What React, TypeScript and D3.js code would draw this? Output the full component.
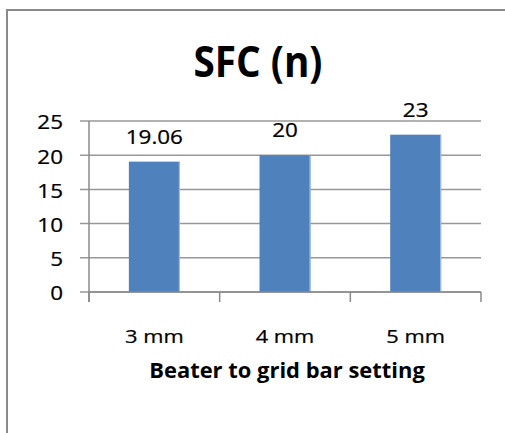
import React from "react";
import * as d3 from "d3";

const categories = ["3 mm", "4 mm", "5 mm"];
const values = [19.06, 20, 23];
const yTicks = [0, 5, 10, 15, 20, 25];
const title = "SFC (n)";
const xTitle = "Beater to grid bar setting";

const W = 505;
const H = 433;
const FONT = "'Open Sans', 'Noto Sans', sans-serif";

function SText(props: {
  x: number;
  y: number;
  sx: number;
  size: number;
  anchor: string;
  weight?: string;
  baseline?: string;
  spacing?: number;
  children: React.ReactNode;
}) {
  return (
    <text
      transform={`translate(${props.x},${props.y}) scale(${props.sx},1)`}
      textAnchor={props.anchor as any}
      fontFamily={FONT}
      fontSize={props.size}
      fontWeight={props.weight || "normal"}
      dominantBaseline={props.baseline as any}
      letterSpacing={props.spacing}
      fill="#000"
      stroke="#000"
      strokeWidth={props.weight === "bold" ? 0 : 0.25}
    >
      {props.children}
    </text>
  );
}

export default function App() {
  const left = 89;
  const right = 481;
  const top = 121;
  const bottom = 292;

  const y = d3.scaleLinear().domain([0, 25]).range([bottom, top]);
  const x = d3
    .scaleBand<string>()
    .domain(categories)
    .range([left, right])
    .paddingInner(0.61)
    .paddingOuter(0.305);
  const cat = d3.scaleBand<string>().domain(categories).range([left, right]);

  const boundaries = [left, ...categories.map((c) => (cat(c) as number) + cat.bandwidth())];

  return (
    <svg
      width={W}
      height={H}
      style={{ position: "absolute", left: 0, top: 0, background: "#fff" }}
    >
      <rect x={0} y={0} width={W} height={H} fill="#fff" />
      <rect x={7} y={10} width={W + 20} height={H + 20} fill="#fff" stroke="#8a8a8a" strokeWidth={2} />

      <SText x={258} y={77} sx={0.9} size={43} anchor="middle" weight="bold">
        {title}
      </SText>

      {yTicks.map((t) => (
        <line key={"g" + t} x1={80} x2={right} y1={y(t)} y2={y(t)} stroke="#989898" strokeWidth={1.5} />
      ))}
      {yTicks.map((t) => (
        <SText key={"yl" + t} x={63} y={y(t) + 1} sx={1.15} size={19.5} anchor="end" baseline="central">
          {String(t)}
        </SText>
      ))}

      {categories.map((c, i) => (
        <g key={c}>
          <rect
            x={x(c) as number}
            y={y(values[i])}
            width={x.bandwidth()}
            height={bottom - y(values[i])}
            fill="#4f81bd"
          />
          <line
            x1={(x(c) as number) + x.bandwidth() - 0.5}
            x2={(x(c) as number) + x.bandwidth() - 0.5}
            y1={y(values[i])}
            y2={bottom}
            stroke="#a7c3e6"
            strokeWidth={1}
          />
        </g>
      ))}

      <line x1={left} x2={left} y1={top} y2={bottom + 10} stroke="#8a8a8a" strokeWidth={1.5} />
      <line x1={left} x2={right} y1={bottom} y2={bottom} stroke="#8a8a8a" strokeWidth={1.5} />
      {boundaries.map((b, i) => (
        <line key={"b" + i} x1={b} x2={b} y1={bottom} y2={bottom + 10} stroke="#8a8a8a" strokeWidth={1.5} />
      ))}

      {categories.map((c, i) => (
        <SText
          key={"dl" + c}
          x={(x(c) as number) + x.bandwidth() / 2}
          y={y(values[i]) - 18}
          sx={1.15}
          size={19.5}
          anchor="middle"
        >
          {String(values[i])}
        </SText>
      ))}

      {categories.map((c) => (
        <SText
          key={"cl" + c}
          x={(cat(c) as number) + cat.bandwidth() / 2}
          y={343}
          sx={1.15}
          size={19}
          anchor="middle"
        >
          {c}
        </SText>
      ))}

      <SText x={287} y={378} sx={1.07} size={20.5} anchor="middle" weight="bold">
        {xTitle}
      </SText>
    </svg>
  );
}
